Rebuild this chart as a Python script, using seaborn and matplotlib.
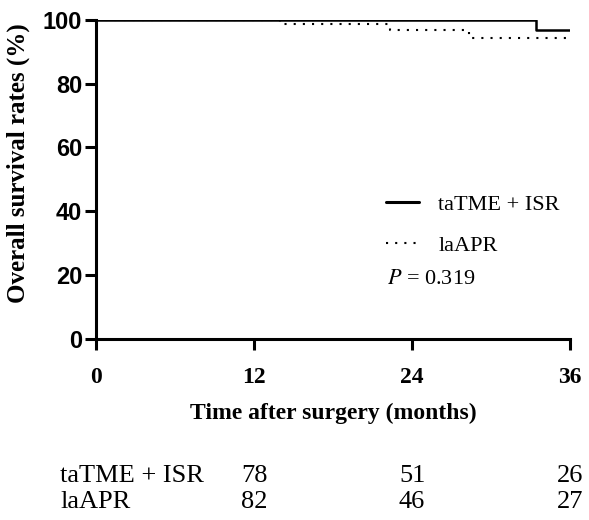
import pandas as pd
import matplotlib.pyplot as plt
import matplotlib.transforms as mtransforms
from matplotlib.lines import Line2D
import seaborn as sns

# Kaplan-Meier step points (months, survival %)
ta_time = [0, 33.4, 36]
ta_surv = [100, 96.8, 96.8]
la_time = [0, 14, 22.3, 28.3, 36]
la_surv = [100, 98.7, 96.8, 94.4, 94.4]

groups = ['taTME + ISR', 'laAPR']
risk_times = [12, 24, 36]
risk_ta = [78, 51, 26]
risk_la = [82, 46, 27]

df = pd.concat([
    pd.DataFrame({'time': ta_time, 'surv': ta_surv, 'group': groups[0]}),
    pd.DataFrame({'time': la_time, 'surv': la_surv, 'group': groups[1]}),
])

sns.set_style('ticks', {'text.color': 'black', 'axes.labelcolor': 'black',
                        'xtick.color': 'black', 'ytick.color': 'black',
                        'axes.edgecolor': 'black'})
serif = ['Liberation Serif', 'DejaVu Serif']
sans = ['Liberation Sans', 'DejaVu Sans']

fig = plt.figure(figsize=(5.89, 5.2), dpi=100)
ax = fig.add_axes([0.163, 0.348, 0.805, 0.614])

sns.lineplot(data=df[df.group == groups[1]], x='time', y='surv', ax=ax,
             drawstyle='steps-post', color='black', lw=1.5, legend=False)
ax.lines[-1].set_dashes((1, 3.4))
sns.lineplot(data=df[df.group == groups[0]], x='time', y='surv', ax=ax,
             drawstyle='steps-post', color='black', lw=1.8, legend=False)

ax.set_xlim(0, 36)
ax.set_ylim(0, 100)
ax.set_xticks([0, 12, 24, 36])
ax.set_yticks([0, 20, 40, 60, 80, 100])
sns.despine(ax=ax)
for s in ['left', 'bottom']:
    ax.spines[s].set_linewidth(2.2)
ax.tick_params(axis='both', length=8, width=2.2, color='black')
ax.tick_params(axis='x', pad=12)
ax.tick_params(axis='y', pad=2)
for lab in ax.get_xticklabels():
    lab.set_fontfamily(serif)
    lab.set_fontweight('bold')
    lab.set_fontsize(17)
for lab in ax.get_yticklabels():
    lab.set_fontfamily(sans)
    lab.set_fontweight('bold')
    lab.set_fontsize(17)

ax.set_xlabel('Time after surgery (months)', fontfamily=serif, fontweight='bold',
              fontsize=17, labelpad=11)
ax.set_ylabel('Overall survival rates (%)', fontfamily=serif, fontweight='bold',
              fontsize=18)
ax.yaxis.set_label_coords(-0.14, 0.55)

handles = [Line2D([], [], color='black', lw=2.2),
           Line2D([], [], color='black', lw=1.5, dashes=(1, 3.4))]
fig.legend(handles, groups, frameon=False, loc='upper left',
           bbox_to_anchor=(386 / 589, 1 - 194 / 520), borderpad=0, borderaxespad=0,
           prop={'family': serif, 'size': 16},
           handlelength=1.5, handletextpad=0.85, labelspacing=0.95)
fig.text(387 / 589, 1 - 280 / 520, '$P$ = 0.319', fontfamily=serif,
         fontsize=16, va='center', math_fontfamily='stix')

# number-at-risk table
trans = mtransforms.blended_transform_factory(ax.transData, fig.transFigure)
for row_y, name, vals in [(1 - 476 / 520, groups[0], risk_ta), (1 - 502 / 520, groups[1], risk_la)]:
    fig.text(60 / 589, row_y, name, fontfamily=serif, fontsize=19, va='center')
    for t, v in zip(risk_times, vals):
        ax.text(t, row_y, str(v), transform=trans, fontfamily=serif, fontsize=19,
                ha='center', va='center', clip_on=False)

fig.savefig('out.png', dpi=100)
